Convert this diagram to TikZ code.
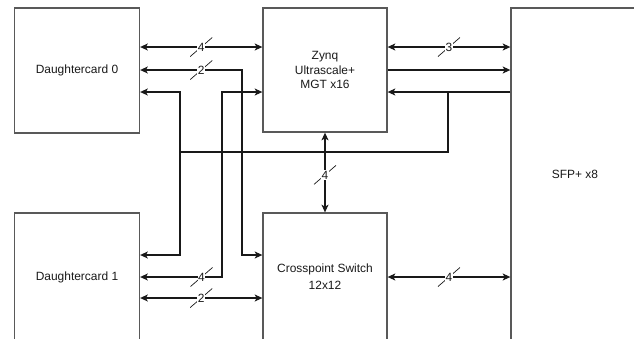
\documentclass[tikz,border=0pt]{standalone}
\usepackage{fontspec}
\setmainfont{Liberation Sans}
\usetikzlibrary{arrows.meta, positioning}

\begin{document}
\begin{tikzpicture}[
  x=0.025cm, y=-0.025cm,
  font=\fontsize{8.5}{10}\selectfont,
  card/.style={draw=black!65, line width=0.9pt, rectangle, minimum width=3.125cm, minimum height=3.125cm, align=center, text=black!90},
  link/.style={line width=0.8pt, black!90, >={Stealth[length=5.5pt, width=5pt, inset=1.5pt]}},
  lanes/.pic={\draw[-, line width=0.5pt] (-11,9.5) -- (11,-9.5); \node[fill=white, inner sep=0.4pt, text=black!90] {#1};}
]
\useasboundingbox (0,0) rectangle (634,338);

\node[card] (dc0) at (77,70.5) {Daughtercard 0};
\node[card, minimum width=3.1cm, minimum height=3.1cm] (zynq) at (325,70) {Zynq\\Ultrascale+\\MGT x16};
\node[card, minimum height=3.2cm] (dc1) at (77,277) {Daughtercard 1};
\node[card, minimum width=3.1cm, minimum height=3.2cm] (xpt) at (325,277) {Crosspoint Switch\\[2pt]12x12};
\node[card, minimum width=3.2cm, minimum height=8.3cm] (sfp) at (575,174) {SFP+ x8};

\coordinate (tap) at (448,92);
\coordinate (split) at (180,152);

% daughtercards
\draw[link, <->] (dc0.east |- 0,47) -- pic[pos=0.5]{lanes=4} (zynq.west |- 0,47);
\draw[link, <->] (dc0.east |- 0,70) -- pic[pos=0.6]{lanes=2} (242,70) |- (xpt.west |- 0,255);
\draw[link, <->] (dc1.east |- 0,277) -- pic[pos=0.75]{lanes=4} (222,277) |- (zynq.west |- 0,92);
\draw[link, <->] (dc1.east |- 0,298) -- pic[pos=0.5]{lanes=2} (xpt.west |- 0,298);

% sfp side
\draw[link, <->] (zynq.east |- 0,47) -- pic[pos=0.5]{lanes=3} (sfp.west |- 0,47);
\draw[link, ->] (zynq.east |- 0,70) -- (sfp.west |- 0,70);
\draw[link, ->] (sfp.west |- tap) -- (zynq.east |- tap);
\draw[link, ->] (tap) |- (split) |- (dc0.east |- tap);
\draw[link, ->] (split) |- (dc1.east |- 0,255);
\draw[link, <->] (xpt.east |- 0,277) -- pic[pos=0.5]{lanes=4} (sfp.west |- 0,277);

\draw[link, <->] (zynq.south) -- pic[pos=0.53]{lanes=4} (xpt.north);

\end{tikzpicture}
\end{document}
